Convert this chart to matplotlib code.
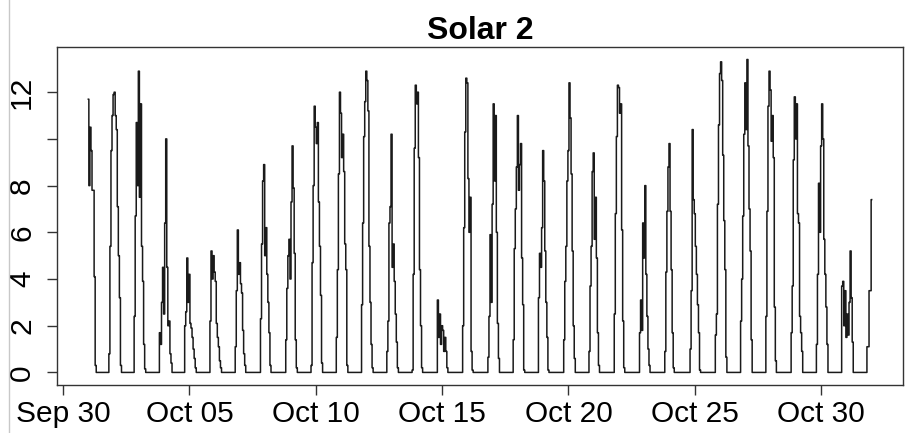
import numpy as np
import pandas as pd
import matplotlib
matplotlib.use("Agg")
import matplotlib.pyplot as plt
import matplotlib.dates as mdates
from matplotlib.lines import Line2D

plt.rcParams['font.family'] = ['Liberation Sans', 'DejaVu Sans']

# hourly readings, Oct 1 00:00 - 07:00 (series starts mid-block)
first_block = [11.7, 8.0, 10.5, 9.5, 7.8, 7.8, 4.1, 0.3]

# one block per day: hourly readings 19:00 on Oct d -> 07:00 the next morning
day_blocks = [
    [0, 0.8, 5.4, 9.5, 11.0, 11.9, 12.0, 11.0, 10.4, 7.1, 5.0, 3.2, 0.3],   # Oct 01
    [0, 2.4, 6.7, 10.7, 8.0, 12.9, 7.5, 11.5, 5.4, 3.9, 1.2, 0.15, 0],      # Oct 02
    [0, 1.7, 1.2, 3.0, 4.5, 2.5, 6.4, 10.0, 4.5, 2.0, 2.2, 0.8, 0.4],       # Oct 03
    [0, 2.0, 2.6, 4.9, 3.0, 4.2, 2.1, 1.9, 1.5, 1.0, 0.6, 0.2, 0],          # Oct 04
    [0, 2.2, 5.2, 4.0, 5.0, 4.3, 3.9, 2.1, 1.5, 1.1, 0.5, 0.2, 0],          # Oct 05
    [0, 1.1, 3.5, 6.1, 4.2, 4.7, 3.8, 3.4, 1.8, 0.8, 0.3, 0, 0],            # Oct 06
    [0, 2.3, 5.5, 8.2, 8.9, 5.0, 6.2, 4.2, 3.0, 1.7, 0.3, 0, 0],            # Oct 07
    [0, 1.4, 3.6, 5.0, 5.7, 4.0, 7.3, 9.7, 7.9, 5.1, 1.4, 0.2, 0],          # Oct 08
    [0, 0.3, 4.7, 8.0, 11.4, 10.5, 9.8, 10.7, 7.3, 5.4, 3.3, 0.4, 0],       # Oct 09
    [0, 1.5, 4.4, 8.5, 12.0, 11.1, 9.2, 10.2, 8.6, 5.5, 4.4, 0.3, 0],       # Oct 10
    [0, 2.9, 6.4, 10.1, 11.6, 12.9, 12.5, 11.2, 5.4, 3.0, 1.2, 0.2, 0],     # Oct 11
    [0, 0.9, 2.2, 6.4, 7.1, 10.2, 4.5, 5.5, 3.9, 2.5, 1.3, 0.2, 0],         # Oct 12
    [0, 0.1, 4.2, 9.6, 12.3, 11.5, 12.0, 9.2, 4.4, 2.0, 0.2, 0, 0],         # Oct 13
    [0, 3.1, 1.5, 2.5, 1.2, 2.0, 1.8, 0.9, 1.5, 0.9, 0.2, 0, 0],            # Oct 14
    [0, 2.0, 6.2, 10.3, 12.6, 12.4, 8.3, 6.0, 7.5, 0.9, 0.1, 0, 0],         # Oct 15
    [0, 0.65, 2.4, 5.9, 3.0, 7.2, 11.5, 8.2, 11.0, 6.0, 2.1, 0.6, 0],       # Oct 16
    [0, 1.4, 5.3, 7.0, 8.8, 11.0, 7.8, 8.9, 9.8, 4.9, 2.9, 0.1, 0],         # Oct 17
    [0, 3.2, 5.1, 4.5, 6.2, 9.5, 8.2, 5.2, 3.0, 1.5, 0.1, 0, 0],            # Oct 18
    [0, 1.4, 3.9, 5.4, 8.2, 9.5, 12.4, 10.9, 8.5, 5.2, 2.0, 0.6, 0],        # Oct 19
    [0, 0.9, 3.7, 5.4, 8.6, 9.4, 5.7, 7.5, 4.9, 1.7, 0.3, 0, 0],            # Oct 20
    [0, 2.5, 6.8, 10.1, 12.3, 12.2, 11.1, 11.5, 6.1, 2.2, 0.2, 0, 0],       # Oct 21
    [0, 1.7, 3.1, 1.8, 6.4, 4.9, 8.0, 4.2, 2.4, 1.0, 0.3, 0, 0],            # Oct 22
    [0, 0.9, 4.3, 6.9, 8.8, 9.8, 6.9, 4.4, 1.7, 0.2, 0, 0, 0],              # Oct 23
    [0, 1.0, 3.5, 10.4, 7.4, 6.8, 5.4, 4.2, 2.9, 1.7, 0.1, 0, 0],           # Oct 24
    [0, 1.6, 2.5, 7.2, 10.6, 12.8, 13.3, 12.5, 9.3, 6.5, 4.4, 0.65, 0],     # Oct 25
    [0, 2.2, 4.0, 6.7, 10.2, 12.4, 10.4, 13.4, 9.7, 7.0, 5.2, 1.4, 0],      # Oct 26
    [0, 2.4, 6.9, 11.4, 12.9, 12.1, 9.9, 11.0, 9.2, 2.8, 0.5, 0, 0],        # Oct 27
    [0, 1.7, 3.7, 9.1, 11.8, 10.0, 11.5, 6.8, 6.4, 2.4, 1.7, 0.9, 0],       # Oct 28
    [0, 1.2, 4.2, 8.1, 6.0, 9.7, 11.5, 10.0, 5.7, 4.2, 2.8, 1.2, 0],        # Oct 29
    [0, 3.7, 3.9, 2.0, 3.5, 1.5, 2.5, 1.6, 3.0, 5.2, 3.2, 1.3, 0],          # Oct 30
]

# Oct 31 19:00 -> Nov 1 00:00 (series ends here)
last_block = [0, 1.1, 1.1, 3.5, 3.5, 7.4]

times = pd.date_range('2013-10-01 00:00', '2013-11-01 00:00', freq='h')
solar = np.zeros(len(times))
solar[:len(first_block)] = first_block
for i, blk in enumerate(day_blocks):
    s = i * 24 + 19
    solar[s:s + len(blk)] = blk
solar[len(times) - len(last_block):] = last_block

fig = plt.figure(figsize=(9.09, 4.33), dpi=100)
ax = fig.add_axes([0.0627, 0.111, 0.9307, 0.7805])
ax.plot(times, solar, color='#1a1a1a', lw=1.1, drawstyle='steps-mid')
ax.margins(x=0.04, y=0.04)

tick_dates = pd.date_range('2013-09-30', '2013-10-30', freq='5D')
ax.set_xticks(tick_dates)
ax.xaxis.set_major_formatter(mdates.DateFormatter('%b %d'))
ax.set_yticks([0, 2, 4, 6, 8, 10, 12])
ax.set_yticklabels(['0', '2', '4', '6', '8', '', '12'], rotation=90, va='center')

ax.tick_params(axis='both', length=7, width=1, color='#333333', labelsize=21.5)
ax.tick_params(axis='x', pad=3.5)
ax.tick_params(axis='y', pad=8)
for sp in ax.spines.values():
    sp.set_color('#333333')
    sp.set_linewidth(1.0)

ax.set_title('Solar 2', fontweight='bold', fontsize=23, pad=6)

fig.add_artist(Line2D([0.0095, 0.0095], [0, 1], transform=fig.transFigure,
                      color='#c8c8c8', lw=1))

fig.savefig('out.png', dpi=100, facecolor='white')
